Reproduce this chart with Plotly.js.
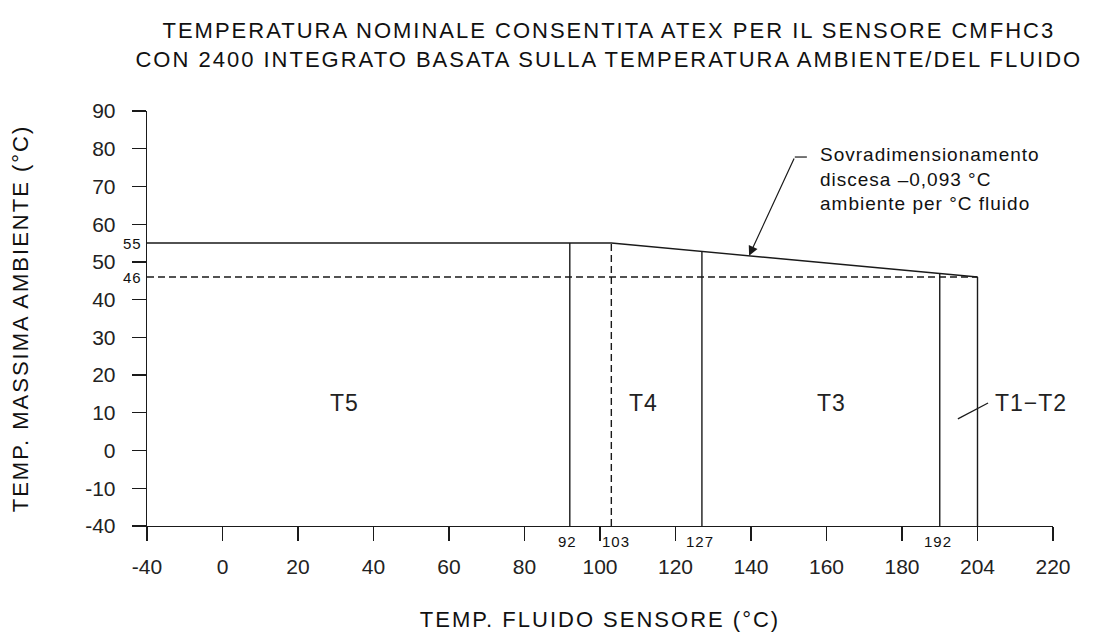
<!DOCTYPE html>
<html>
<head>
<meta charset="utf-8">
<script src="https://cdn.plot.ly/plotly-3.0.1.min.js"></script>
<style>
html, body { margin: 0; padding: 0; background: #fff; }
#chart { width: 1097px; height: 632px; }
.gtitle, .g-xtitle text, .g-ytitle text { letter-spacing: 2px; }
.annotation-text { letter-spacing: 1px; }
</style>
</head>
<body>
<div id="chart"></div>
<script>
// ---- data ----
const fluidTicks = [-40, 0, 20, 40, 60, 80, 100, 120, 140, 160, 180, 204, 220];
const ambientTicks = [-40, -10, 0, 10, 20, 30, 40, 50, 60, 70, 80, 90];

const limitFluid = [-40, 103, 204];      // max ambient limit curve
const limitAmbient = [55, 55, 46];

const reducedFluid = [-40, 204];         // dashed 46 °C line
const reducedAmbient = [46, 46];

const boundaryFluid = [92, 103, 127, 192, 204];
const boundaryDashed = [false, true, false, false, false];
const boundaryLabels = ['92', '103', '127', '192', ''];

const ambientMarks = [55, 46];
const ambientMarkLabels = ['55', '46'];

const zoneNames = ['T5', 'T4', 'T3', 'T1−T2'];
const slopeNote = ['Sovradimensionamento', 'discesa –0,093 °C', 'ambiente per °C fluido'];
const slopeArrowFluid = 139.5;

// ---- the drawing uses evenly spaced ticks: map values onto tick index ----
function toIndex(v, ticks) {
  for (let i = 0; i < ticks.length - 1; i++) {
    if (v <= ticks[i + 1]) return i + (v - ticks[i]) / (ticks[i + 1] - ticks[i]);
  }
  return ticks.length - 1;
}
const fx = v => toIndex(v, fluidTicks);
const fy = v => toIndex(v, ambientTicks);

const curveX = limitFluid.map(fx);
const curveY = limitAmbient.map(fy);
function curveAt(xi) {
  for (let i = 0; i < curveX.length - 1; i++) {
    if (xi <= curveX[i + 1]) {
      const t = (xi - curveX[i]) / (curveX[i + 1] - curveX[i]);
      return curveY[i] + t * (curveY[i + 1] - curveY[i]);
    }
  }
  return curveY[curveY.length - 1];
}

const INK = '#1a1a1a';
const LW = 1.4;

const solidX = [], solidY = [], dashX = [], dashY = [];
boundaryFluid.forEach((v, i) => {
  const xi = fx(v);
  const top = curveAt(xi);
  const tx = boundaryDashed[i] ? dashX : solidX;
  const ty = boundaryDashed[i] ? dashY : solidY;
  tx.push(xi, xi, null);
  ty.push(0, top, null);
});

const traces = [
  { x: curveX, y: curveY, mode: 'lines', line: { color: INK, width: LW }, hoverinfo: 'skip' },
  { x: reducedFluid.map(fx), y: reducedAmbient.map(fy), mode: 'lines',
    line: { color: INK, width: LW, dash: '7px,4px' }, hoverinfo: 'skip' },
  { x: solidX, y: solidY, mode: 'lines', line: { color: INK, width: LW }, hoverinfo: 'skip' },
  { x: dashX, y: dashY, mode: 'lines', line: { color: INK, width: LW, dash: '7px,4px' }, hoverinfo: 'skip' }
];

const tickFont = { family: 'Liberation Sans, Arial, sans-serif', size: 21, color: '#222' };
const smallFont = { family: 'Liberation Sans, Arial, sans-serif', size: 15, color: '#111' };
const zoneFont = { family: 'Liberation Sans, Arial, sans-serif', size: 23, color: '#222' };

const annotations = [];
ambientMarks.forEach((v, i) => annotations.push({
  x: 0, y: fy(v), xref: 'x', yref: 'y', text: ambientMarkLabels[i], showarrow: false,
  xanchor: 'right', yanchor: 'middle', xshift: -3, font: smallFont
}));
boundaryFluid.forEach((v, i) => {
  if (!boundaryLabels[i]) return;
  annotations.push({
    x: fx(v), y: 0, xref: 'x', yref: 'y', text: boundaryLabels[i], showarrow: false,
    xanchor: 'center', yanchor: 'middle', yshift: -15, xshift: boundaryDashed[i] ? 5 : -2, font: smallFont
  });
});
const zonePos = [[2.62, 3.25, 'center'], [6.57, 3.25, 'center'], [9.06, 3.25, 'center'], [11.2, 3.25, 'left']];
zoneNames.forEach((n, i) => annotations.push({
  x: zonePos[i][0], y: zonePos[i][1], xref: 'x', yref: 'y', text: n, showarrow: false,
  xanchor: zonePos[i][2], yanchor: 'middle', font: zoneFont
}));
annotations.push({
  x: 8.89, y: 9.2, xref: 'x', yref: 'y', text: slopeNote.join('<br>'), showarrow: false,
  xanchor: 'left', yanchor: 'middle', align: 'left',
  font: { family: 'Liberation Sans, Arial, sans-serif', size: 19, color: '#111' }
});
const tipX = fx(slopeArrowFluid);
annotations.push({
  x: tipX, y: curveAt(tipX), xref: 'x', yref: 'y', text: '', showarrow: true,
  ax: 8.58, ay: 9.78, axref: 'x', ayref: 'y',
  arrowhead: 2, arrowsize: 1.6, arrowwidth: 1.2, arrowcolor: INK, standoff: 0
});

const shapes = [
  { type: 'line', xref: 'x', yref: 'y', x0: 8.58, y0: 9.78, x1: 8.74, y1: 9.78, line: { color: INK, width: 1.2 } },
  { type: 'line', xref: 'x', yref: 'y', x0: 10.74, y0: 2.84, x1: 11.14, y1: 3.26, line: { color: INK, width: 1.2 } }
];

const layout = {
  width: 1097, height: 632,
  margin: { l: 147, r: 44, t: 111, b: 106, pad: 0 },
  paper_bgcolor: '#fff', plot_bgcolor: '#fff',
  showlegend: false,
  title: {
    text: 'TEMPERATURA NOMINALE CONSENTITA ATEX PER IL SENSORE CMFHC3<br>CON 2400 INTEGRATO BASATA SULLA TEMPERATURA AMBIENTE/DEL FLUIDO',
    font: { family: 'Liberation Sans, Arial, sans-serif', size: 22, color: '#111' },
    x: 0.555, xanchor: 'center', xref: 'container',
    y: 0.94, yanchor: 'middle', yref: 'container'
  },
  xaxis: {
    range: [0, fluidTicks.length - 1], fixedrange: true,
    tickmode: 'array', tickvals: fluidTicks.map((_, i) => i), ticktext: fluidTicks.map(String),
    ticks: 'outside', ticklen: 14, tickwidth: 1.3, tickcolor: INK,
    showline: true, linecolor: INK, linewidth: 1.3, showgrid: false, zeroline: false,
    tickfont: tickFont, ticklabelstandoff: 7,
    title: { text: 'TEMP. FLUIDO SENSORE (°C)', standoff: 36,
      font: { family: 'Liberation Sans, Arial, sans-serif', size: 22, color: '#111' } },
    automargin: false
  },
  yaxis: {
    range: [0, ambientTicks.length - 1], fixedrange: true,
    tickmode: 'array', tickvals: ambientTicks.map((_, i) => i), ticktext: ambientTicks.map(String),
    ticks: 'outside', ticklen: 14, tickwidth: 1.3, tickcolor: INK,
    showline: true, linecolor: INK, linewidth: 1.3, showgrid: false, zeroline: false,
    tickfont: tickFont, ticklabelstandoff: 12,
    title: { text: 'TEMP. MASSIMA AMBIENTE (°C)', standoff: 50,
      font: { family: 'Liberation Sans, Arial, sans-serif', size: 22, color: '#111' } },
    automargin: false
  },
  annotations: annotations,
  shapes: shapes
};

Plotly.newPlot('chart', traces, layout, { staticPlot: true, displayModeBar: false });
</script>
</body>
</html>
